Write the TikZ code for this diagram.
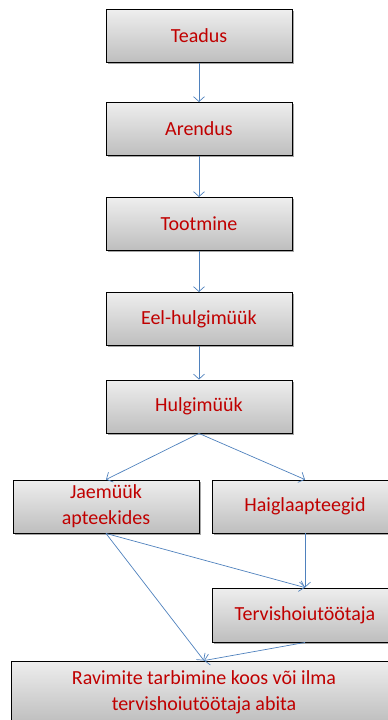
\documentclass[tikz,border=0pt]{standalone}
\usepackage{fontspec}
\setmainfont{Carlito}
\usetikzlibrary{shadows,arrows.meta}
\definecolor{txt}{HTML}{C00000}
\definecolor{arr}{HTML}{4F81BD}
\definecolor{boxtop}{HTML}{EEEEEE}
\definecolor{boxbot}{HTML}{BEBEBE}
\tikzset{
  box/.style={draw=black, line width=0.9pt, top color=boxtop, bottom color=boxbot,
    drop shadow={shadow xshift=1.5pt, shadow yshift=-1.5pt, opacity=0.35, fill=black},
    text=txt, font=\fontsize{20}{26}\selectfont, align=center, inner sep=0pt,
    minimum width=186pt, minimum height=53pt},
  conn/.style={draw=arr, line width=0.7pt, -{Straight Barb[length=5pt,width=11pt]}}
}
\begin{document}
\begin{tikzpicture}[x=1pt,y=-1pt]
\useasboundingbox (0,0) rectangle (388,720);
\node[box] (teadus) at (199,36) {Teadus};
\node[box] (arendus) at (199,129) {Arendus};
\node[box] (tootmine) at (199,224) {Tootmine};
\node[box] (eel) at (199,319) {Eel-hulgimüük};
\node[box] (hulgi) at (199,406.5) {Hulgimüük};
\node[box] (jaem) at (106,506.5) {Jaemüük\\apteekides};
\node[box] (haigla) at (305,506.5) {Haiglaapteegid};
\node[box, minimum height=54pt] (terv) at (305,615) {Tervishoiutöötaja};
\node[box, minimum width=386pt, minimum height=62pt] (ravim) at (204,692) {Ravimite tarbimine koos või ilma\\tervishoiutöötaja abita};
\draw[conn] (teadus) -- (arendus);
\draw[conn] (arendus) -- (tootmine);
\draw[conn] (tootmine) -- (eel);
\draw[conn] (eel) -- (hulgi);
\draw[conn] (hulgi.south) -- (jaem.north);
\draw[conn] (hulgi.south) -- (haigla.north);
\draw[conn] (jaem.south) -- (terv.north);
\draw[conn] (haigla.south) -- (terv.north);
\draw[conn] (jaem.south) -- (ravim.north);
\draw[conn] (terv.south) -- (ravim.north);
\end{tikzpicture}
\end{document}
